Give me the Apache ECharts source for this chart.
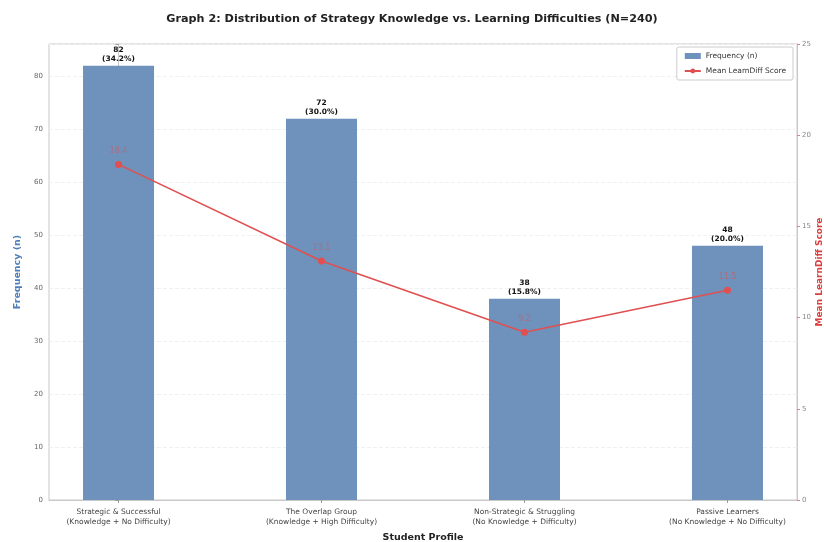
<!DOCTYPE html>
<html>
<head>
<meta charset="utf-8">
<script src="https://cdn.jsdelivr.net/npm/echarts@6/dist/echarts.min.js"></script>
<style>html,body{margin:0;padding:0;background:#fff;}#c{width:824px;height:542px;}</style>
</head>
<body>
<div id="c"></div>
<script>
const categories = [
  "Strategic & Successful\n(Knowledge + No Difficulty)",
  "The Overlap Group\n(Knowledge + High Difficulty)",
  "Non-Strategic & Struggling\n(No Knowledge + Difficulty)",
  "Passive Learners\n(No Knowledge + No Difficulty)"
];
const frequency = [82, 72, 38, 48];
const percentLabels = ["34.2%", "30.0%", "15.8%", "20.0%"];
const meanScore = [18.4, 13.1, 9.2, 11.5];
const leftTicks = [0, 10, 20, 30, 40, 50, 60, 70, 80];
const rightTicks = [0, 5, 10, 15, 20, 25];

const chart = echarts.init(document.getElementById('c'), null, {renderer: 'canvas'});
const idx = categories.map((_, i) => i);
const font = '"DejaVu Sans", sans-serif';

chart.setOption({
  animation: false,
  backgroundColor: '#fff',
  textStyle: {fontFamily: font},
  title: {
    text: 'Graph 2: Distribution of Strategy Knowledge vs. Learning Difficulties (N=240)',
    left: 'center', top: 9,
    textStyle: {fontSize: 11.2, fontWeight: 'bold', color: '#222', fontFamily: font}
  },
  legend: {
    orient: 'vertical', right: 31, top: 47,
    itemWidth: 16, itemHeight: 6, itemGap: 7,
    padding: [5, 7], borderColor: '#ccc', borderWidth: 1, borderRadius: 2,
    backgroundColor: '#fff',
    textStyle: {fontSize: 7.5, color: '#333'},
    data: [{name: 'Frequency (n)', icon: 'rect'}, {name: 'Mean LearnDiff Score'}]
  },
  grid: {left: 49, right: 27, top: 44, bottom: 42, show: true, borderColor: '#c8c8c8', borderWidth: 1,
    containLabel: false, outerBoundsMode: 'none'},
  xAxis: {
    type: 'value', min: -0.3425, max: 3.3425,
    name: 'Student Profile', nameLocation: 'middle', nameGap: 33, nameMoveOverlap: false,
    nameTextStyle: {fontSize: 9.5, fontWeight: 'bold', color: '#222'},
    axisLine: {show: true, lineStyle: {color: '#c8c8c8'}},
    axisTick: {show: true, customValues: idx, length: 3, lineStyle: {color: '#999'}},
    splitLine: {show: false},
    axisLabel: {customValues: idx, fontSize: 7.5, color: '#444', lineHeight: 10, margin: 7,
      formatter: v => categories[Math.round(v)] || ''}
  },
  yAxis: [{
    type: 'value', min: 0, max: 86.1, interval: 10,
    name: 'Frequency (n)', nameLocation: 'middle', nameGap: 26, nameMoveOverlap: false,
    nameTextStyle: {fontSize: 9.5, color: '#4f7fb8', fontWeight: 'bold'},
    axisLine: {show: true, lineStyle: {color: '#c8c8c8'}},
    axisTick: {show: true, length: 3, lineStyle: {color: '#999'}},
    axisLabel: {fontSize: 7, color: '#666', margin: 6,
      formatter: v => leftTicks.includes(v) ? String(v) : ''},
    splitLine: {show: true, lineStyle: {color: '#f0f0f0', type: 'dashed'}}
  }, {
    type: 'value', min: 0, max: 25, interval: 5, position: 'right',
    name: 'Mean LearnDiff Score', nameLocation: 'middle', nameGap: 18, nameMoveOverlap: false,
    nameTextStyle: {fontSize: 9, color: '#d9403f', fontWeight: 'bold'},
    axisLine: {show: true, lineStyle: {color: '#c8c8c8'}},
    axisTick: {show: true, length: 3, lineStyle: {color: '#e08080'}},
    axisLabel: {fontSize: 7, color: '#888', margin: 5,
      formatter: v => rightTicks.includes(v) ? String(v) : ''},
    splitLine: {show: false}
  }],
  series: [{
    name: 'Frequency (n)', type: 'bar', barWidth: 71,
    itemStyle: {color: '#6e92bc'},
    data: frequency.map((v, i) => [i, v]),
    label: {
      show: true, position: 'top', distance: 2,
      fontSize: 7.5, fontWeight: 'bold', color: '#111', lineHeight: 9,
      formatter: p => frequency[p.dataIndex] + '\n(' + percentLabels[p.dataIndex] + ')'
    }
  }, {
    name: 'Mean LearnDiff Score', type: 'line', yAxisIndex: 1,
    symbol: 'circle', symbolSize: 7,
    itemStyle: {color: '#e05050'},
    lineStyle: {color: '#e05050', width: 1.6},
    data: meanScore.map((v, i) => [i, v]),
    label: {
      show: true, position: 'top', distance: 6,
      fontSize: 8, color: 'rgba(224,80,80,0.55)',
      formatter: p => meanScore[p.dataIndex].toFixed(1)
    },
    z: 5
  }]
});
</script>
</body>
</html>
